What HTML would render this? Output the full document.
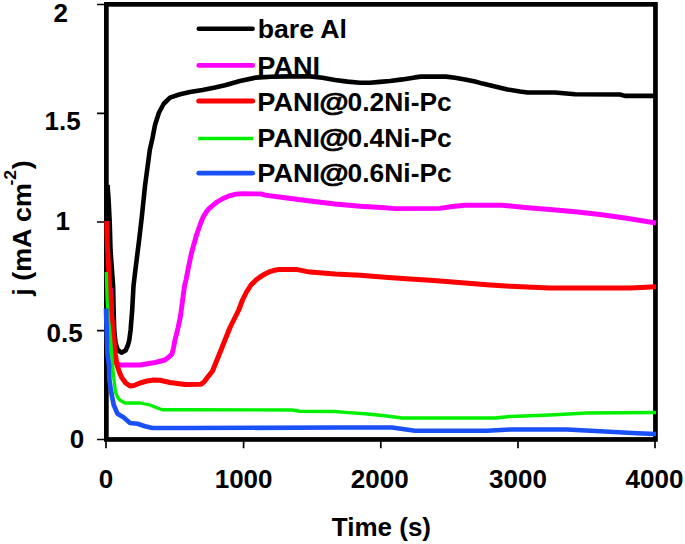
<!DOCTYPE html>
<html>
<head>
<meta charset="utf-8">
<title>Chart</title>
<style>
html,body{margin:0;padding:0;background:#fff;}
body{width:685px;height:544px;overflow:hidden;}
svg{display:block;}
text{font-family:"Liberation Sans",sans-serif;font-weight:bold;fill:#000;}
</style>
</head>
<body>
<svg width="685" height="544" viewBox="0 0 685 544">
<rect x="0" y="0" width="685" height="544" fill="#fff"/>

<!-- frame -->
<rect x="106.35" y="4.35" width="549.1" height="435.1" fill="none" stroke="#000" stroke-width="4.7"/>

<!-- ticks -->
<g stroke="#000" stroke-width="1.7" fill="none">
  <path d="M97,4.5H105 M97,113.3H105 M97,222H105 M97,330.6H105 M97,439.5H105"/>
  <path d="M106,441V448.3 M243.6,441V448.3 M380.8,441V448.3 M518,441V448.3 M655,441V448.3"/>
</g>

<!-- curves -->
<g fill="none" stroke-linejoin="round" stroke-linecap="butt">
  <path stroke="#000" stroke-width="4.6" d="M107.5,185 L108.6,200 109.7,222 110.5,250 113.1,286 113.6,310 114.2,330 115.5,343 117.8,350 121.5,352.6 125.6,350.5 128,345 129.3,340 130.6,330 132.2,310 133.5,286 135.6,268 138.75,243 141.7,218 145,186 149.8,150 152.5,138 155,125 159,112.5 163.75,103.75 170,97.6 180,94.2 190,91.9 202.5,90 215,87.5 225,85.2 240,81 256,77.6 271,76.7 290,76.4 310,76.4 322.5,77.75 335,80 347.5,81.6 360,82.75 370,82.75 380,81.9 390,81 402.5,79.4 415,77.4 421,76.6 446,76.6 455,77.75 465,79.4 475,81.5 482.5,83.6 495,86.6 507.5,89.4 520,91.5 527.5,92.5 555,92.5 575,94.2 620,94.5 625,95.9 656,95.9"/>
  <path stroke="#ff00ff" stroke-width="4.9" d="M110.2,288 L111,298 112,332 113.5,355 116,363 120,365 140,365 155,362.5 165,360 170,356 172,354 173.5,348 175,340 178,328 180.5,316 184.5,286 186,280 188.5,267 191.5,253 196.5,235 200.9,222.5 203.2,217 205.9,212.5 209,208.6 212.5,205.6 217,202 222.5,198.75 230,195.6 236,194.1 242,193.8 261,193.9 265,195.1 285,197.75 310,201 335,204 360,206.25 385,207.75 395,208.6 440,208.4 452.5,206.5 465,205.2 502,205.2 525,207.5 550,209.5 575,211.75 600,214.5 625,218 656,223"/>
  <path stroke="#ff0000" stroke-width="5" d="M106.8,221 L107,235 107.6,250 109.6,286 111.6,315 114,340 115.5,355 117,365 119.3,372 121.7,377.5 125.7,383 130,386 134,385.5 140,383 147,381 153.75,380 160,380.3 170,382.5 185,384.4 201,384.25 204,382 207,378 212.5,371 221,350 230,327.5 238.75,310 242.5,300 246.5,292 251,285 256,280 260,277 265,274 270,271.6 275,270.2 279,269.4 296,269.4 310,272.1 335,274 360,275.25 385,277.25 410,279 430,280.25 440,280.9 465,283 490,285 510,286.25 550,288 630,288 656,286.75"/>
  <path stroke="#00f000" stroke-width="3.3" d="M106.3,272 L107.1,300 108.5,320 110.3,336 112.5,365 114,380 115.6,392.5 118,398 120.5,400.5 125,403 140,403 150,405 156,407.5 162.5,409.75 185,409.75 292,410 300,411.25 335,411.5 345,412.3 365,413.75 385,415.75 402,418 495,418 510,416.5 550,415 587,413 656,412.5"/>
  <path stroke="#1a50f8" stroke-width="4.7" d="M106,308.5 L107,340 107.5,354 109,365 109.4,380 111.25,392.5 113.75,405 117.5,413.75 123.75,417.5 130,423 137.5,423.75 145,426.25 152.5,428 185,428 340,427.5 392,427.5 415,430.75 487,430.75 510,429.5 567,429.5 600,431.25 637,433.25 656,434"/>
</g>

<!-- legend -->
<g fill="none" stroke-linecap="round">
  <path stroke="#000" stroke-width="4.6" d="M198.8,28.7H252.6"/>
  <path stroke="#ff00ff" stroke-width="4.8" d="M198.8,65.4H252.6"/>
  <path stroke="#ff0000" stroke-width="5" d="M198.8,101H252.6"/>
  <path stroke="#00f000" stroke-width="3.4" stroke-linecap="butt" d="M198.2,138.45H253.3"/>
  <path stroke="#1a50f8" stroke-width="4.9" d="M198.8,173.15H252.6"/>
</g>
<g font-size="26">
  <text transform="translate(257.7,37.5) scale(1.025,1)">bare Al</text>
  <text transform="translate(257.3,74.5) scale(1.045,1)">PANI</text>
  <g transform="translate(0,110.5)">
    <text transform="translate(257.3,0) scale(1.045,1)">PANI</text>
    <text transform="translate(319.2,0) scale(1.16,1)" stroke="#000" stroke-width="0.7">@</text>
    <text transform="translate(347.6,0) scale(1.015,1)">0.2Ni-Pc</text>
  </g>
  <g transform="translate(0,146.8)">
    <text transform="translate(257.3,0) scale(1.045,1)">PANI</text>
    <text transform="translate(319.2,0) scale(1.16,1)" stroke="#000" stroke-width="0.7">@</text>
    <text transform="translate(347.6,0) scale(1.015,1)">0.4Ni-Pc</text>
  </g>
  <g transform="translate(0,182.3)">
    <text transform="translate(257.3,0) scale(1.045,1)">PANI</text>
    <text transform="translate(319.2,0) scale(1.16,1)" stroke="#000" stroke-width="0.7">@</text>
    <text transform="translate(347.6,0) scale(1.015,1)">0.6Ni-Pc</text>
  </g>
</g>

<!-- y tick labels -->
<g font-size="26">
  <text x="53.4" y="22.2">2</text>
  <text x="44.5" y="129.8">1.5</text>
  <text x="55.5" y="230.3">1</text>
  <text x="46.6" y="342.3">0.5</text>
  <text x="69.8" y="447.7">0</text>
</g>

<!-- x tick labels -->
<g font-size="26" text-anchor="middle">
  <text x="106" y="488">0</text>
  <text x="243.6" y="488">1000</text>
  <text x="379.7" y="488">2000</text>
  <text x="518" y="488">3000</text>
  <text x="654.5" y="488">4000</text>
</g>

<!-- axis titles -->
<text x="331.8" y="535.5" font-size="26">Time (s)</text>
<g transform="translate(31,295.7) rotate(-90) scale(1.034,1)">
  <text x="0" y="0" font-size="26">j (mA cm</text>
  <text x="106.5" y="-14.7" font-size="17">-2</text>
  <text x="122.3" y="0" font-size="26">)</text>
</g>
</svg>
</body>
</html>
